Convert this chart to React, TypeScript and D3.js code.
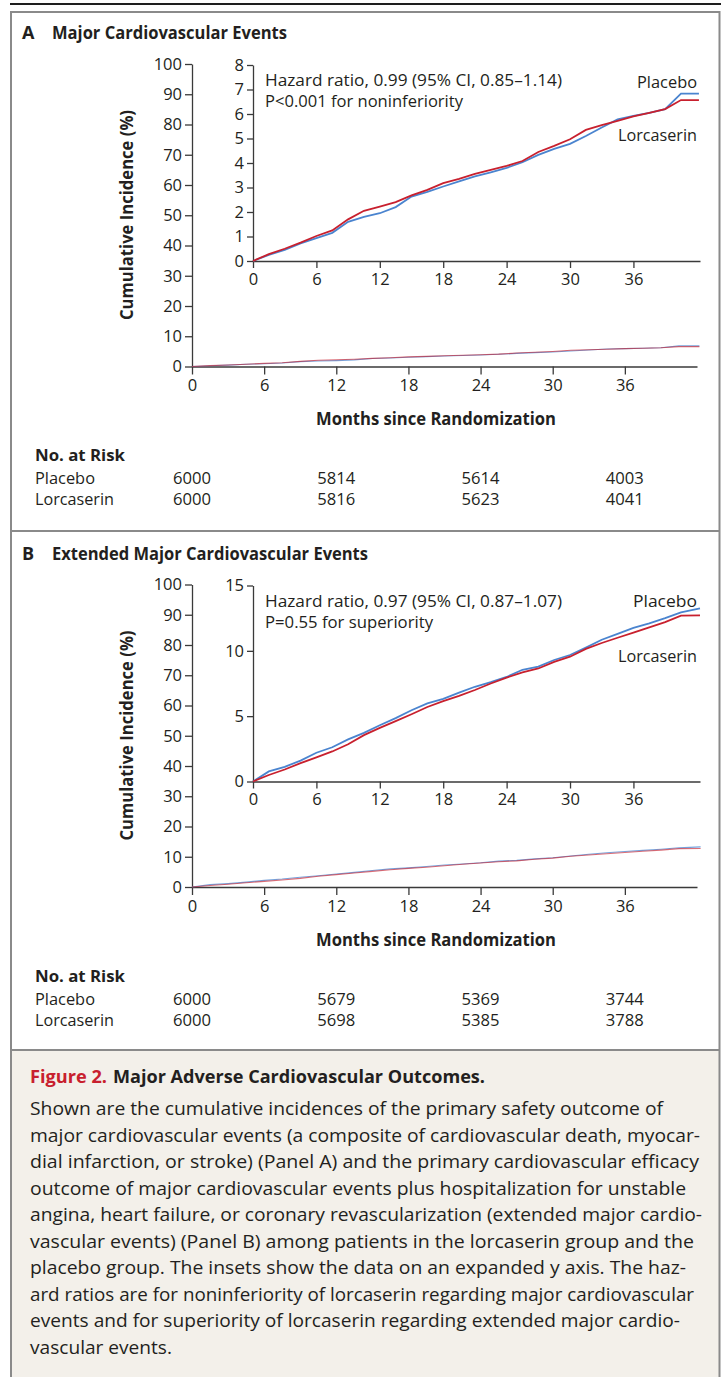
import React, { useEffect, useRef } from 'react';
import * as d3 from 'd3';

// ---- data ----
const monthsA = [0, 1.5, 3, 4.5, 6, 7.5, 9, 10.5, 12, 13.5, 15, 16.5, 18, 19.5, 21, 22.5, 24, 25.5, 27, 28.5, 30, 31.5, 33, 34.5, 36, 37.5, 39, 40.5, 42.2];
const placeboA = [0, 0.25, 0.45, 0.72, 0.93, 1.15, 1.6, 1.8, 1.95, 2.2, 2.63, 2.82, 3.04, 3.25, 3.45, 3.62, 3.8, 4.03, 4.33, 4.58, 4.78, 5.1, 5.45, 5.78, 5.92, 6.05, 6.2, 6.83, 6.83];
const lorcaserinA = [0, 0.28, 0.5, 0.75, 1.02, 1.25, 1.7, 2.05, 2.22, 2.4, 2.68, 2.9, 3.18, 3.35, 3.56, 3.72, 3.88, 4.08, 4.45, 4.7, 4.97, 5.35, 5.55, 5.72, 5.9, 6.05, 6.2, 6.57, 6.57];

const monthsB = [0, 1.5, 3, 4.5, 6, 7.5, 9, 10.5, 12, 13.5, 15, 16.5, 18, 19.5, 21, 22.5, 24, 25.5, 27, 28.5, 30, 31.5, 33, 34.5, 36, 37.5, 39, 40.5, 42.3];
const placeboB = [0, 0.77, 1.12, 1.6, 2.2, 2.62, 3.22, 3.72, 4.3, 4.85, 5.45, 5.98, 6.33, 6.8, 7.25, 7.6, 8.0, 8.55, 8.8, 9.3, 9.68, 10.25, 10.85, 11.3, 11.75, 12.1, 12.5, 12.95, 13.25];
const lorcaserinB = [0, 0.5, 0.92, 1.4, 1.85, 2.3, 2.85, 3.55, 4.1, 4.62, 5.15, 5.7, 6.15, 6.55, 7.0, 7.5, 7.95, 8.35, 8.65, 9.15, 9.55, 10.15, 10.6, 11.0, 11.4, 11.8, 12.2, 12.7, 12.72];

const monthTicks = [0, 6, 12, 18, 24, 30, 36];
const mainYTicks = [0, 10, 20, 30, 40, 50, 60, 70, 80, 90, 100];
const insetTicksA = [0, 1, 2, 3, 4, 5, 6, 7, 8];
const insetTicksB = [0, 5, 10, 15];

const riskMonths = [0, 12, 24, 36];
const riskPlaceboA = [6000, 5814, 5614, 4003];
const riskLorcaserinA = [6000, 5816, 5623, 4041];
const riskPlaceboB = [6000, 5679, 5369, 3744];
const riskLorcaserinB = [6000, 5698, 5385, 3788];

const captionLines = [
  'Shown are the cumulative incidences of the primary safety outcome of',
  'major cardiovascular events (a composite of cardiovascular death, myocar-',
  'dial infarction, or stroke) (Panel A) and the primary cardiovascular efficacy',
  'outcome of major cardiovascular events plus hospitalization for unstable',
  'angina, heart failure, or coronary revascularization (extended major cardio-',
  'vascular events) (Panel B) among patients in the lorcaserin group and the',
  'placebo group. The insets show the data on an expanded y axis. The haz-',
  'ard ratios are for noninferiority of lorcaserin regarding major cardiovascular',
  'events and for superiority of lorcaserin regarding extended major cardio-',
  'vascular events.',
];
const captionWidths = [633, 670, 669, 656, 672, 664, 656, 664, 650, 142];

const W = 721;
const H = 1377;
const FONT = '"Open Sans", "Noto Sans", sans-serif';
const TEXT = '#231f20';
const AXIS = '#3a3a3a';
const BLUE = '#4a84cf';
const RED = '#c8202e';
const FRAME = '#8a8a8a';

function styleAxis(g, size) {
  g.attr('font-family', FONT).attr('font-size', size);
  g.select('.domain').attr('stroke', AXIS).attr('stroke-width', 1.3);
  g.selectAll('.tick line').attr('stroke', AXIS).attr('stroke-width', 1.3);
  g.selectAll('.tick text').attr('fill', TEXT);
}

function drawPanel(root, o) {
  const g = root.append('g').attr('transform', `translate(0,${o.dy})`);

  g.append('text').attr('x', 22).attr('y', 39).attr('font-family', FONT)
    .attr('font-weight', 700).attr('font-size', 18).attr('fill', TEXT).text(o.letter);
  g.append('text').attr('x', 52).attr('y', 39).attr('font-family', FONT)
    .attr('font-weight', 700).attr('font-size', 17.5).attr('fill', TEXT)
    .attr('textLength', o.titleWidth).attr('lengthAdjust', 'spacingAndGlyphs').text(o.title);

  // main chart
  const x = d3.scaleLinear().domain([0, 42]).range([192, 697]);
  const y = d3.scaleLinear().domain([0, 100]).range([366.5, 64]);

  const ya = g.append('g').attr('transform', 'translate(192,0)')
    .call(d3.axisLeft(y).tickValues(mainYTicks).tickSize(7).tickSizeOuter(0).tickPadding(3));
  styleAxis(ya, 16.5);
  const xa = g.append('g').attr('transform', 'translate(0,366.5)')
    .call(d3.axisBottom(x).tickValues(monthTicks).tickSize(8).tickSizeOuter(0).tickPadding(5));
  styleAxis(xa, 16.5);

  const mainLine = d3.line<number>().x((d, i) => x(o.months[i])).y(d => y(d));
  g.append('path').datum(o.placebo).attr('d', mainLine).attr('fill', 'none')
    .attr('stroke', BLUE).attr('stroke-width', 1.1).attr('opacity', 0.75);
  g.append('path').datum(o.lorcaserin).attr('d', mainLine).attr('fill', 'none')
    .attr('stroke', RED).attr('stroke-width', 1.1).attr('opacity', 0.65);

  g.append('text').attr('x', 436).attr('y', 425).attr('text-anchor', 'middle')
    .attr('font-family', FONT).attr('font-weight', 700).attr('font-size', 17).attr('fill', TEXT)
    .attr('textLength', 240).attr('lengthAdjust', 'spacingAndGlyphs').text('Months since Randomization');

  g.append('text').attr('transform', 'translate(133,215) rotate(-90)').attr('text-anchor', 'middle')
    .attr('font-family', FONT).attr('font-weight', 700).attr('font-size', 17).attr('fill', TEXT)
    .attr('textLength', 210).attr('lengthAdjust', 'spacingAndGlyphs').text('Cumulative Incidence (%)');

  // inset
  const xi = d3.scaleLinear().domain([0, 42.3]).range([253, 700]);
  const yi = d3.scaleLinear().domain([0, o.insetMax]).range([261, 65]);

  const yia = g.append('g').attr('transform', 'translate(253,0)')
    .call(d3.axisLeft(yi).tickValues(o.insetTicks).tickSize(6).tickSizeOuter(0).tickPadding(3));
  styleAxis(yia, 16.5);
  const xia = g.append('g').attr('transform', 'translate(0,261)')
    .call(d3.axisBottom(xi).tickValues(monthTicks).tickSize(7).tickSizeOuter(0).tickPadding(5));
  styleAxis(xia, 16.5);

  const insetLine = d3.line<number>().x((d, i) => xi(o.months[i])).y(d => yi(d));
  g.append('path').datum(o.placebo).attr('d', insetLine).attr('fill', 'none')
    .attr('stroke', BLUE).attr('stroke-width', 1.8);
  g.append('path').datum(o.lorcaserin).attr('d', insetLine).attr('fill', 'none')
    .attr('stroke', RED).attr('stroke-width', 1.8);

  const note = g.append('g').attr('font-family', FONT).attr('font-size', 16.5).attr('fill', TEXT);
  note.append('text').attr('x', 265).attr('y', 86).attr('textLength', 297)
    .attr('lengthAdjust', 'spacingAndGlyphs').text(o.hr);
  note.append('text').attr('x', 265).attr('y', 107).attr('textLength', o.pWidth)
    .attr('lengthAdjust', 'spacingAndGlyphs').text(o.p);
  note.append('text').attr('x', 697).attr('y', o.placeboLabelY).attr('text-anchor', 'end')
    .attr('textLength', o.placeboWidth).attr('lengthAdjust', 'spacingAndGlyphs').text('Placebo');
  note.append('text').attr('x', 697).attr('y', 141).attr('text-anchor', 'end')
    .attr('textLength', 79).attr('lengthAdjust', 'spacingAndGlyphs').text('Lorcaserin');

  // number at risk
  const risk = g.append('g').attr('font-family', FONT).attr('font-size', 16).attr('fill', TEXT);
  risk.append('text').attr('x', 35).attr('y', 461).attr('font-weight', 700)
    .attr('textLength', 90).attr('lengthAdjust', 'spacingAndGlyphs').text('No. at Risk');
  risk.append('text').attr('x', 35).attr('y', 484)
    .attr('textLength', 60).attr('lengthAdjust', 'spacingAndGlyphs').text('Placebo');
  risk.append('text').attr('x', 35).attr('y', 505)
    .attr('textLength', 79).attr('lengthAdjust', 'spacingAndGlyphs').text('Lorcaserin');
  risk.selectAll('text.p').data(o.riskP).enter().append('text').attr('class', 'p')
    .attr('x', (d, i) => x(riskMonths[i])).attr('y', 484).attr('text-anchor', 'middle')
    .attr('textLength', 38).attr('lengthAdjust', 'spacingAndGlyphs').text(d => d);
  risk.selectAll('text.l').data(o.riskL).enter().append('text').attr('class', 'l')
    .attr('x', (d, i) => x(riskMonths[i])).attr('y', 505).attr('text-anchor', 'middle')
    .attr('textLength', 38).attr('lengthAdjust', 'spacingAndGlyphs').text(d => d);
}

export default function App() {
  const svgRef = useRef<SVGSVGElement>(null);

  useEffect(() => {
    const svg = d3.select(svgRef.current);
    svg.selectAll('*').remove();

    // frame and caption box
    svg.append('rect').attr('x', 12).attr('y', 1050).attr('width', 707).attr('height', H - 1050).attr('fill', '#f3f0ea');
    svg.append('line').attr('x1', 10).attr('x2', W).attr('y1', 4).attr('y2', 4).attr('stroke', '#1e1e1e').attr('stroke-width', 2);
    svg.append('path').attr('d', `M11,${H} V12 H719.5 V${H}`).attr('fill', 'none').attr('stroke', FRAME).attr('stroke-width', 2);
    [531, 1050].forEach(yy => {
      svg.append('line').attr('x1', 11).attr('x2', 720).attr('y1', yy).attr('y2', yy).attr('stroke', FRAME).attr('stroke-width', 2);
    });

    drawPanel(svg, {
      dy: 0, letter: 'A', title: 'Major Cardiovascular Events', titleWidth: 235,
      months: monthsA, placebo: placeboA, lorcaserin: lorcaserinA,
      insetMax: 8, insetTicks: insetTicksA,
      hr: 'Hazard ratio, 0.99 (95% CI, 0.85\u20131.14)', p: 'P<0.001 for noninferiority', pWidth: 198,
      placeboLabelY: 88, placeboWidth: 60, riskP: riskPlaceboA, riskL: riskLorcaserinA,
    });
    drawPanel(svg, {
      dy: 520.5, letter: 'B', title: 'Extended Major Cardiovascular Events', titleWidth: 316,
      months: monthsB, placebo: placeboB, lorcaserin: lorcaserinB,
      insetMax: 15, insetTicks: insetTicksB,
      hr: 'Hazard ratio, 0.97 (95% CI, 0.87\u20131.07)', p: 'P=0.55 for superiority', pWidth: 168,
      placeboLabelY: 86, placeboWidth: 64, riskP: riskPlaceboB, riskL: riskLorcaserinB,
    });

    // caption
    const cap = svg.append('g').attr('font-family', FONT).attr('fill', TEXT);
    cap.append('text').attr('x', 30).attr('y', 1083).attr('font-size', 18.5).attr('font-weight', 700)
      .attr('fill', RED).attr('textLength', 77).attr('lengthAdjust', 'spacingAndGlyphs').text('Figure 2.');
    cap.append('text').attr('x', 113).attr('y', 1083).attr('font-size', 18.5).attr('font-weight', 700)
      .attr('textLength', 372).attr('lengthAdjust', 'spacingAndGlyphs').text('Major Adverse Cardiovascular Outcomes.');
    cap.selectAll('text.line').data(captionLines).enter().append('text').attr('class', 'line')
      .attr('x', 30).attr('y', (d, i) => 1115 + i * 26.55).attr('font-size', 18.5)
      .attr('textLength', (d, i) => captionWidths[i]).attr('lengthAdjust', 'spacingAndGlyphs')
      .text(d => d);
  }, []);

  return (
    <svg ref={svgRef} width={W} height={H}
      style={{ position: 'absolute', left: 0, top: 0, background: '#fff' }} />
  );
}
